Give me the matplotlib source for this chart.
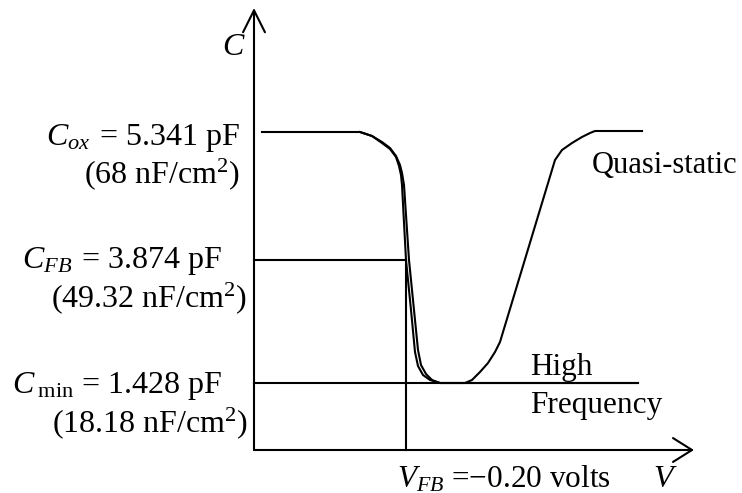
import matplotlib
matplotlib.use("Agg")
import matplotlib.pyplot as plt
from matplotlib.patches import FancyArrowPatch

plt.rcParams['font.family'] = ['Liberation Serif', 'DejaVu Serif']
plt.rcParams['mathtext.fontset'] = 'custom'
plt.rcParams['mathtext.rm'] = 'Liberation Serif'
plt.rcParams['mathtext.it'] = 'Liberation Serif:italic'
plt.rcParams['mathtext.bf'] = 'Liberation Serif:bold'

# Schematic coordinates (y grows downward)
# Quasi-static C-V curve
qs_v = [262, 360, 372, 382, 390, 396, 400, 402, 404, 409, 414, 418, 421, 426, 432,
        440, 465, 472, 480, 488, 495, 500, 555, 562, 572, 582, 590, 595, 642]
qs_c = [132, 132, 136, 142, 148, 156, 165, 173, 185, 260, 310, 350, 365, 374, 380,
        383, 383, 380, 372, 363, 352, 342, 160, 150, 143, 137, 133, 131, 131]
# High-frequency C-V curve
hf_v = [360, 372, 382, 390, 396, 399, 401, 402, 406, 411, 415, 418, 423, 430, 440, 638]
hf_c = [132, 136, 143, 149, 157, 166, 175, 185, 260, 310, 352, 366, 375, 380, 383, 383]

# Reference levels
v_axis, c_axis = 254, 450
v_fb = 406
c_ox, c_fb, c_min = 132, 260, 383

labels_left = [
    (r"$C_{ox}\;\,$= 5.341 pF", 240, 145),
    ("(68 nF/cm$^{2}$)", 240, 183),
    (r"$C_{FB}\;\,$= 3.874 pF", 222, 268),
    ("(49.32 nF/cm$^{2}$)", 247, 307),
    (r"$C_{\;\mathrm{min}}$ = 1.428 pF", 222, 393),
    ("(18.18 nF/cm$^{2}$)", 248, 432),
]

fig = plt.figure(figsize=(7.42, 4.93), dpi=100)
ax = fig.add_axes([0, 0, 1, 1])
ax.set_xlim(0, 742)
ax.set_ylim(493, 0)
ax.axis('off')

lw = 1.5
k = 'black'
# axes with open arrowheads
ax.add_patch(FancyArrowPatch((v_axis, c_axis), (v_axis, 8),
             arrowstyle='->,head_length=15.8,head_width=7.9',
             mutation_scale=1, lw=lw, color=k, shrinkA=0, shrinkB=0))
ax.add_patch(FancyArrowPatch((v_axis, c_axis), (694, c_axis),
             arrowstyle='->,head_length=13.7,head_width=8.6',
             mutation_scale=1, lw=lw, color=k, shrinkA=0, shrinkB=0))

# reference lines
ax.plot([v_axis, v_fb], [c_fb, c_fb], color=k, lw=lw)
ax.plot([v_fb, v_fb], [c_fb, c_axis], color=k, lw=lw)
ax.plot([v_axis, 638], [c_min, c_min], color=k, lw=lw)

# curves
ax.plot(qs_v, qs_c, color=k, lw=lw, solid_joinstyle='round')
ax.plot(hf_v, hf_c, color=k, lw=lw, solid_joinstyle='round')

for txt, x, y in labels_left:
    ax.text(x, y, txt, ha='right', va='baseline', fontsize=23)

ax.text(222, 55, "$C$", ha='left', va='baseline', fontsize=23)
ax.text(592, 173, "Quasi-static", ha='left', va='baseline', fontsize=22)
ax.text(530, 375, "High", ha='left', va='baseline', fontsize=22.5)
ax.text(530, 413, "Frequency", ha='left', va='baseline', fontsize=22.5)
ax.text(397, 487, "$V_{FB}$ =\u22120.20 volts", ha='left', va='baseline', fontsize=22.5)
ax.text(653, 487, "$V$", ha='left', va='baseline', fontsize=23)

fig.savefig("out.png", dpi=100)
